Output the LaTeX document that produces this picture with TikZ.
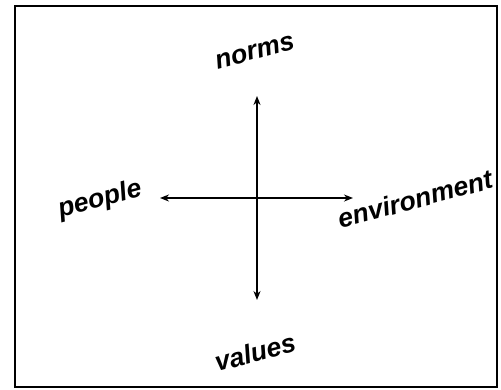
\documentclass[tikz,border=0pt]{standalone}
\usepackage{fontspec}
\setmainfont{Liberation Sans}
\usetikzlibrary{arrows.meta}
\begin{document}
\begin{tikzpicture}[x=1pt,y=-1pt,
  lbl/.style={font=\fontsize{26.5}{30}\selectfont\bfseries\itshape, rotate=15, inner sep=0pt},
  axis/.style={line width=1.8pt, {Stealth[length=9pt,width=7pt]}-{Stealth[length=9pt,width=7pt]}}]
\useasboundingbox (0,0) rectangle (501,389);
\draw[line width=1.8pt] (15,6) rectangle (497,387);
\coordinate (top) at (257,96);
\coordinate (bot) at (257,300);
\coordinate (lft) at (160,198);
\coordinate (rgt) at (353,198);
\draw[axis] (top) -- (bot);
\draw[axis] (lft) -- (rgt);
\node[lbl] (norms) at (255,52) {norms};
\node[lbl] (people) at (100,200) {people};
\node[lbl] (env) at (415,199) {environment};
\node[lbl] (values) at (255,352) {values};
\end{tikzpicture}
\end{document}
